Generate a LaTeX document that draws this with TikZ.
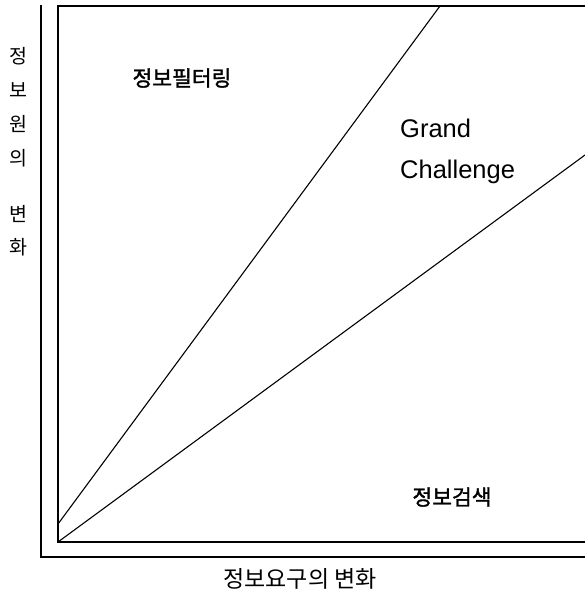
\documentclass[tikz,border=0pt]{standalone}
\usepackage{fontspec}
\newfontfamily\kr{Noto Sans CJK KR}
\newfontfamily\krb[FakeBold=1.5]{Noto Sans CJK KR}
\newfontfamily\lat{Liberation Sans}
\begin{document}
\begin{tikzpicture}[x=1pt,y=-1pt,
  axis/.style={line width=1.2pt,black},
  ray/.style={line width=1.1pt,black},
  kor/.style={font=\krb\fontsize{21.5}{24}\selectfont,inner sep=0pt},
  vkor/.style={font=\kr\fontsize{19.5}{22}\selectfont,inner sep=0pt},
  eng/.style={font=\lat\fontsize{25.5}{30}\selectfont,inner sep=0pt,align=left,anchor=west}]
\useasboundingbox (0,0) rectangle (585,599);
% outer L axes
\coordinate (otop) at (41,5);
\coordinate (ocorner) at (41,557);
\coordinate (oright) at (585,557);
\draw[axis] (otop) -- (ocorner) -- (oright);
% inner frame
\coordinate (itr) at (585,6);
\coordinate (itl) at (58,6);
\coordinate (ibl) at (58,542);
\coordinate (ibr) at (585,542);
\draw[axis] (itr) -- (itl) -- (ibl) -- (ibr);
% rays
\coordinate (s1) at (58,524);
\coordinate (e1) at (440,6);
\coordinate (e2) at (585,155);
\draw[ray] (s1) -- (e1);
\draw[ray] (ibl) -- (e2);
% labels
\node[kor] (filter) at (182,78) {정보필터링};
\node[eng] (grand) at (400,128) {Grand};
\node[eng] (chall) at (400,172) {Challenge};
\node[kor] (search) at (452,497) {정보검색};
\node[vkor,font=\kr\fontsize{23}{26}\selectfont] (xlab) at (300,579) {정보요구의 변화};
\node[vkor] (v1) at (18,56) {정};
\node[vkor] (v2) at (18,90) {보};
\node[vkor] (v3) at (18,124) {원};
\node[vkor] (v4) at (18,158) {의};
\node[vkor] (v5) at (18,214) {변};
\node[vkor] (v6) at (18,247) {화};
\end{tikzpicture}
\end{document}
